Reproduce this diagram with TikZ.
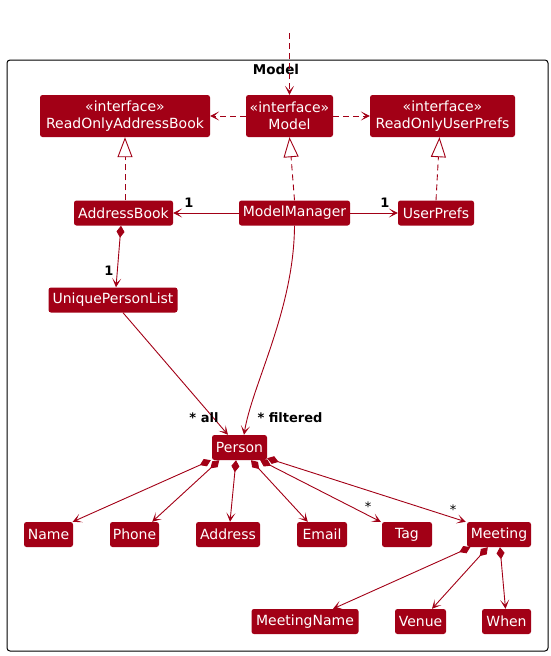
\documentclass[tikz,border=0pt]{standalone}
\usepackage{fontspec}
\setmainfont{DejaVu Sans}
\usetikzlibrary{arrows.meta}
\definecolor{umlred}{HTML}{A20016}
\begin{document}
\begin{tikzpicture}[x=1pt,y=-1pt,
  cls/.style={fill=umlred,text=white,rounded corners=2.5pt,inner sep=0pt,
    minimum height=25pt,font=\fontsize{14}{17}\selectfont,align=center},
  iface/.style={cls,minimum height=42pt},
  link/.style={draw=umlred,line width=0.9pt},
  navtip/.style={-{Stealth[length=9pt,width=9pt,inset=5pt]}},
  dep/.style={link,navtip,dash pattern=on 6pt off 4pt},
  real/.style={link,dash pattern=on 6pt off 4pt,
    -{Triangle[length=20pt,width=15pt,fill=white]}},
  nav/.style={link,navtip},
  comp/.style={link,{Diamond[length=12pt,width=8pt]}-{Stealth[length=9pt,width=9pt,inset=5pt]}},
  mult/.style={font=\fontsize{13}{15}\selectfont\bfseries,inner sep=0pt},
  star/.style={font=\fontsize{13}{15}\selectfont,inner sep=0pt},
  pkgframe/.style={draw=black,line width=1pt,rounded corners=3pt,inner sep=0pt}
]
\useasboundingbox (0,0) rectangle (550,656);

% package frame and its title
\node[pkgframe,minimum width=541pt,minimum height=591pt] (pkg) at (277.5,355.5) {};
\node[font=\fontsize{13.5}{16}\selectfont\bfseries,inner sep=0pt] (pkgtitle) at (276,69) {Model};

% interfaces
\node[iface,minimum width=170pt] (roab) at (125,116) {«interface»\\ReadOnlyAddressBook};
\node[iface,minimum width=87pt] (model) at (289.5,116) {«interface»\\Model};
\node[iface,minimum width=145pt] (roup) at (442.5,116) {«interface»\\ReadOnlyUserPrefs};

% implementations
\node[cls,minimum width=99pt] (ab) at (123.5,213) {AddressBook};
\node[cls,minimum width=111pt] (mm) at (294.5,213) {ModelManager};
\node[cls,minimum width=76pt] (up) at (436,213) {UserPrefs};
\node[cls,minimum width=129pt] (upl) at (113,300) {UniquePersonList};

% person and its parts
\node[cls,minimum width=55pt] (person) at (239.5,447.5) {Person};
\node[cls,minimum width=49pt] (name) at (48.5,534.5) {Name};
\node[cls,minimum width=49pt] (phone) at (134.5,534.5) {Phone};
\node[cls,minimum width=64pt] (address) at (228,534.5) {Address};
\node[cls,minimum width=50pt] (email) at (322,534.5) {Email};
\node[cls,minimum width=50pt] (tag) at (407,534.5) {Tag};
\node[cls,minimum width=64pt] (meeting) at (499,534.5) {Meeting};
\node[cls,minimum width=107pt] (mname) at (305,621.5) {MeetingName};
\node[cls,minimum width=51pt] (venue) at (420.5,621.5) {Venue};
\node[cls,minimum width=49pt] (when) at (506.5,621.5) {When};

% outside access to the model
\coordinate (ext) at (289.5,33);
\draw[dep] (ext) -- (model.north);
\draw[dep] (model.west) -- (roab.east);
\draw[dep] (model.east) -- (roup.west);

% realizations
\draw[real] ([xshift=1.5pt]ab.north) -- (roab.south);
\draw[real] (mm.north) -- (model.south);
\draw[real] (up.north) -- ([xshift=-3pt]roup.south);

% associations
\draw[nav] (mm.west) -- (ab.east);
\draw[nav] (mm.east) -- (up.west);
\node[mult] (m1) at (189,203) {1};
\node[mult] (m2) at (385,203) {1};

\draw[comp] ([xshift=-2.5pt]ab.south) -- ([xshift=3pt]upl.north);
\node[mult] (m3) at (109,271) {1};

\draw[nav] ([xshift=10pt]upl.south) -- ([xshift=-11.5pt]person.north);
\node[mult] (m4) at (204,418) {* all};
\draw[nav] (mm.south) .. controls (294,310) and (252,385) .. ([xshift=4.5pt]person.north);
\node[mult] (m5) at (290,418) {* filtered};

% person compositions
\draw[comp] ([xshift=-1pt]person.south west) -- ([xshift=-0.5pt]name.north east);
\draw[comp] ([xshift=7.5pt]person.south west) -- ([xshift=-7pt]phone.north east);
\draw[comp] ([xshift=-3.5pt]person.south) -- ([xshift=2pt]address.north);
\draw[comp] ([xshift=11.5pt]person.south) -- ([xshift=11pt]email.north west);
\draw[comp] ([xshift=-7pt]person.south east) -- ([xshift=-1pt]tag.north west);
\draw[comp] ([yshift=2pt]person.south east) -- ([xshift=-1pt]meeting.north west);
\node[star] (s1) at (368,507) {*};
\node[star] (s2) at (453,510) {*};

% meeting compositions
\draw[comp] ([xshift=3.5pt]meeting.south west) -- ([xshift=28pt]mname.north);
\draw[comp] ([xshift=21pt]meeting.south west) -- ([xshift=11.5pt]venue.north);
\draw[comp] ([xshift=1pt]meeting.south) -- ([xshift=-1pt]when.north);
\end{tikzpicture}
\end{document}
